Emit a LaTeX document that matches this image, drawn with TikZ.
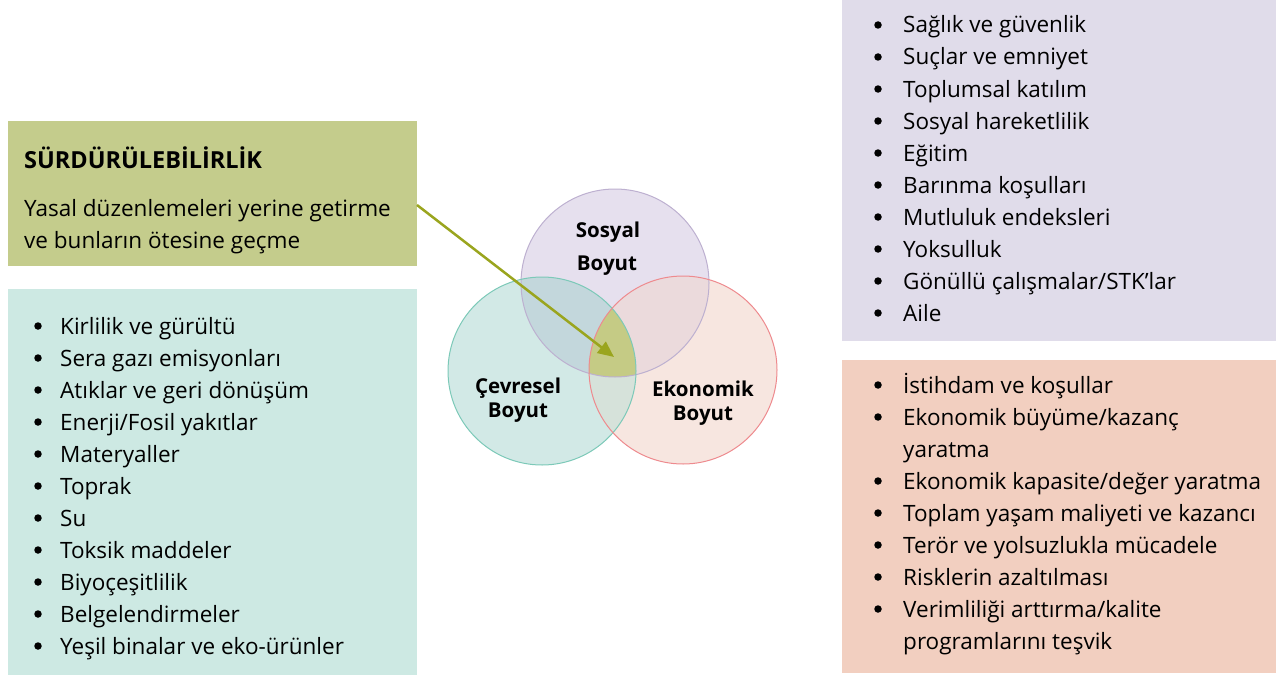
\documentclass[tikz,border=0pt]{standalone}
\usepackage{fontspec}
\setmainfont{Open Sans}
\usetikzlibrary{arrows.meta}
\definecolor{olivebox}{HTML}{C4CC8C}
\definecolor{tealbox}{HTML}{CDE9E3}
\definecolor{lavbox}{HTML}{E0DCEA}
\definecolor{pinkbox}{HTML}{F2CFC0}
\definecolor{sosfill}{HTML}{E6E0EE}
\definecolor{sosline}{HTML}{BDB0D0}
\definecolor{cevfill}{HTML}{D2E9E6}
\definecolor{cevline}{HTML}{7CC9B8}
\definecolor{ekofill}{HTML}{F7E6E0}
\definecolor{ekoline}{HTML}{EE8A8E}
\definecolor{sc}{HTML}{C3D7DC}
\definecolor{se}{HTML}{EBDADC}
\definecolor{ce}{HTML}{D6E2DA}
\definecolor{sce}{HTML}{C5CB85}
\definecolor{arrowc}{HTML}{9AA51E}
\tikzset{
  panel/.style={draw=none, inner sep=0pt, outer sep=0pt},
  item/.style={anchor=base west, inner sep=0pt, font=\fontsize{22.5}{26}\selectfont},
  bul/.style={circle, fill=black, inner sep=0pt, minimum size=7.5pt},
  clabel/.style={anchor=base, inner sep=0pt, font=\fontsize{20.5}{24}\selectfont\bfseries},
}
\begin{document}
\begin{tikzpicture}[x=1pt,y=-1pt]
\useasboundingbox (0,0) rectangle (1276,677);
% panels
\fill[olivebox] (8,121) rectangle (417,266);
\node[panel] (green) at (212.5,193.5) {};
\fill[tealbox] (8,289) rectangle (417,675);
\fill[lavbox] (842,0) rectangle (1276,341);
\fill[pinkbox] (842,360) rectangle (1276,673);
% circles
\fill[sosfill] (615,283) circle (94);
\fill[cevfill] (542,371) circle (94);
\fill[ekofill] (683,370) circle (94);
\begin{scope}
\clip (615,283) circle (94);
\fill[sc] (542,371) circle (94);
\end{scope}
\begin{scope}
\clip (615,283) circle (94);
\fill[se] (683,370) circle (94);
\end{scope}
\begin{scope}
\clip (542,371) circle (94);
\fill[ce] (683,370) circle (94);
\end{scope}
\begin{scope}
\clip (615,283) circle (94);
\clip (542,371) circle (94);
\fill[sce] (683,370) circle (94);
\end{scope}
\draw[sosline, line width=1pt] (615,283) circle (94);
\draw[cevline, line width=1pt] (542,371) circle (94);
\draw[ekoline, line width=1pt] (683,370) circle (94);
\node[clabel] (sos1) at (608,237) {Sosyal};
\node[clabel] (sos2) at (607,270) {Boyut};
\node[clabel] (cev1) at (518,393) {Çevresel};
\node[clabel] (cev2) at (518,417) {Boyut};
\node[clabel] (eko1) at (703,396) {Ekonomik};
\node[clabel] (eko2) at (703,420) {Boyut};
% green box text
\node[anchor=base west, inner sep=0pt, font=\fontsize{23.5}{27}\selectfont\bfseries] (title) at (24,168) {SÜRDÜRÜLEBİLİRLİK};
\node[item] (y1) at (24,216) {Yasal düzenlemeleri yerine getirme};
\node[item] (y2) at (24,248) {ve bunların ötesine geçme};
% arrow
\coordinate (as) at (417,205);
\coordinate (ae) at (614,357);
\draw[arrowc, line width=2.5pt, -{Triangle[length=16pt,width=14pt]}] (as) -- (ae);
% left list
\foreach \t [count=\i from 0] in {Kirlilik ve gürültü, Sera gazı emisyonları, Atıklar ve geri dönüşüm, Enerji/Fosil yakıtlar, Materyaller, Toprak, Su, Toksik maddeler, Biyoçeşitlilik, Belgelendirmeler, Yeşil binalar ve eko-ürünler}{
  \node[bul] (lb\i) at (38,{326+32*\i}) {};
  \node[item] (lt\i) at (60,{334+32*\i}) {\t};
}
% top right list
\foreach \t [count=\i from 0] in {Sağlık ve güvenlik, Suçlar ve emniyet, Toplumsal katılım, Sosyal hareketlilik, Eğitim, Barınma koşulları, Mutluluk endeksleri, Yoksulluk, Gönüllü çalışmalar/STK’lar, Aile}{
  \node[bul] (rb\i) at (878,{25+32*\i}) {};
  \node[item] (rt\i) at (903,{33+32*\i}) {\t};
}
% pink list
\node[bul] (pb0) at (878,385) {};
\node[item] (pt0) at (903,393) {İstihdam ve koşullar};
\node[bul] (pb1) at (878,417) {};
\node[item] (pt1) at (903,425) {Ekonomik büyüme/kazanç};
\node[item] (pt1b) at (903,457) {yaratma};
\node[bul] (pb2) at (878,481) {};
\node[item] (pt2) at (903,489) {Ekonomik kapasite/değer yaratma};
\node[bul] (pb3) at (878,513) {};
\node[item] (pt3) at (903,521) {Toplam yaşam maliyeti ve kazancı};
\node[bul] (pb4) at (878,545) {};
\node[item] (pt4) at (903,553) {Terör ve yolsuzlukla mücadele};
\node[bul] (pb5) at (878,577) {};
\node[item] (pt5) at (903,585) {Risklerin azaltılması};
\node[bul] (pb6) at (878,609) {};
\node[item] (pt6) at (903,617) {Verimliliği arttırma/kalite};
\node[item] (pt6b) at (903,649) {programlarını teşvik};
\end{tikzpicture}
\end{document}
